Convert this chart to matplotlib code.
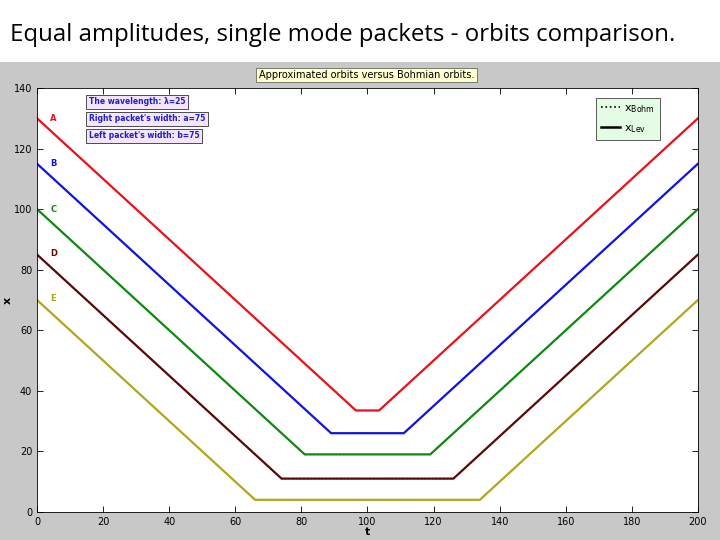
import matplotlib
matplotlib.use("Agg")
import matplotlib.pyplot as plt
from matplotlib.lines import Line2D
from matplotlib.patches import Rectangle

# orbit breakpoints (t, x): descending line, flat bottom, ascending line
orbit_names = ["A", "B", "C", "D", "E"]
orbit_t = [
    [0, 96.5, 103.5, 200],
    [0, 89, 111, 200],
    [0, 81, 119, 200],
    [0, 74, 126, 200],
    [0, 66, 134, 200],
]
orbit_x = [
    [130, 33.5, 33.5, 130],
    [115, 26, 26, 115],
    [100, 19, 19, 100],
    [85, 11, 11, 85],
    [70, 4, 4, 70],
]
orbit_colors = ["#e8141c", "#1414e0", "#108a10", "#5a0a0a", "#b0a820"]
label_y = [128.5, 113.5, 98.5, 84, 69]

info_lines = [
    "The wavelength: \u03bb=25",
    "Right packet's width: a=75",
    "Left packet's width: b=75",
]

fig = plt.figure(figsize=(7.2, 5.4), dpi=100)
fig.patch.set_facecolor("white")
fig.patches.append(Rectangle((0, 0), 1, 0.885, transform=fig.transFigure,
                             facecolor="#c8c8c8", edgecolor="none", zorder=-10))
fig.text(0.014, 0.935, "Equal amplitudes, single mode packets - orbits comparison.",
         fontsize=17.3, family="Open Sans", va="center", ha="left")

ax = fig.add_axes([0.0514, 0.052, 0.918, 0.785])
ax.set_facecolor("white")

for name, t, x, c, ly in zip(orbit_names, orbit_t, orbit_x, orbit_colors, label_y):
    ax.plot(t, x, color=c, lw=1.6, solid_joinstyle="miter")
    ax.plot(t, x, color=c, lw=1.0, ls=":")
    ax.text(4, ly, name, color=c, fontsize=6, fontweight="bold", va="bottom")

ax.set_xlim(0, 200)
ax.set_ylim(0, 140)
ax.set_xticks(range(0, 201, 20))
ax.set_yticks(range(0, 141, 20))
ax.tick_params(direction="in", top=True, right=True, labelsize=7, length=4, width=0.6)
for s in ax.spines.values():
    s.set_linewidth(0.6)
ax.set_xlabel("t", fontsize=8, labelpad=0, fontweight="bold")
ax.set_ylabel("x", fontsize=8, fontweight="bold")
ax.yaxis.set_label_coords(-0.036, 0.5)

# info boxes
for i, s in enumerate(info_lines):
    ax.text(0.078, 0.978 - i * 0.04, s, transform=ax.transAxes, fontsize=5.5,
            fontweight="bold", color="#2020c0", va="top", ha="left",
            bbox=dict(boxstyle="square,pad=0.35", facecolor="#f4e4fc",
                      edgecolor="#303030", lw=0.6))

fig.text(0.509, 0.861, "Approximated orbits versus Bohmian orbits.", fontsize=7,
         ha="center", va="center",
         bbox=dict(boxstyle="square,pad=0.25", facecolor="#ffffd0",
                   edgecolor="#505050", lw=0.5))

handles = [Line2D([], [], color="black", ls=":", lw=1.2),
           Line2D([], [], color="black", ls="-", lw=1.8)]
leg = ax.legend(handles, [r"$\mathregular{x_{Bohm}}$", r"$\mathregular{x_{Lev}}$"],
                loc="upper right", bbox_to_anchor=(0.9425, 0.976), fontsize=8,
                fancybox=False, framealpha=1, handlelength=1.7, handletextpad=0.4,
                borderpad=0.45, labelspacing=0.7, borderaxespad=0)
leg.get_frame().set_facecolor("#e4fce4")
leg.get_frame().set_edgecolor("#404040")
leg.get_frame().set_linewidth(0.6)

fig.savefig("out.png", dpi=100)
